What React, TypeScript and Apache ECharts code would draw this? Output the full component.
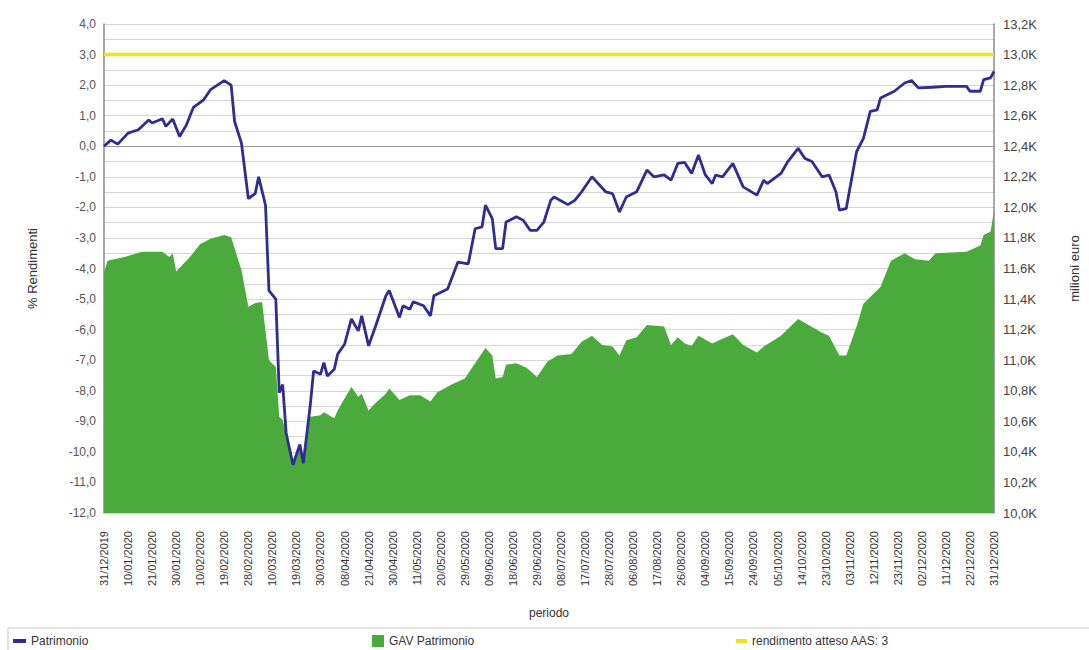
import React, { useEffect, useRef } from 'react';
import * as echarts from 'echarts';

// Non-trading days (besides weekends) in the fund's calendar
const holidays: string[] = ['01/01/2020', '10/04/2020', '13/04/2020'];

function pad(n: number): string {
  return n < 10 ? '0' + n : String(n);
}

// Business-day categories from 31/12/2019 to 31/12/2020
function buildCategories(): string[] {
  const out: string[] = [];
  let t = Date.UTC(2019, 11, 31);
  const end = Date.UTC(2020, 11, 31);
  while (t <= end) {
    const d = new Date(t);
    const wd = d.getUTCDay();
    const s = pad(d.getUTCDate()) + '/' + pad(d.getUTCMonth() + 1) + '/' + d.getUTCFullYear();
    if (wd !== 0 && wd !== 6 && holidays.indexOf(s) < 0) out.push(s);
    t += 86400000;
  }
  return out;
}

const categories: string[] = buildCategories();

// Patrimonio: % rendimento (left axis)
const patrimonio: [string, number][] = [
  ['31/12/2019', 0.0], ['03/01/2020', 0.2], ['07/01/2020', 0.07], ['10/01/2020', 0.43],
  ['15/01/2020', 0.54], ['20/01/2020', 0.86], ['21/01/2020', 0.76], ['24/01/2020', 0.9],
  ['27/01/2020', 0.65], ['29/01/2020', 0.89], ['31/01/2020', 0.32], ['04/02/2020', 0.7],
  ['06/02/2020', 1.27], ['11/02/2020', 1.52], ['13/02/2020', 1.85], ['19/02/2020', 2.15],
  ['21/02/2020', 2.0], ['24/02/2020', 0.81], ['26/02/2020', 0.1], ['28/02/2020', -1.71],
  ['03/03/2020', -1.55], ['04/03/2020', -1.0], ['06/03/2020', -1.93], ['09/03/2020', -4.72],
  ['11/03/2020', -5.0], ['12/03/2020', -8.06], ['13/03/2020', -7.8], ['16/03/2020', -9.38],
  ['18/03/2020', -10.42], ['20/03/2020', -9.76], ['23/03/2020', -10.37], ['25/03/2020', -8.5],
  ['26/03/2020', -7.35], ['30/03/2020', -7.46], ['31/03/2020', -7.08], ['01/04/2020', -7.52],
  ['03/04/2020', -7.3], ['06/04/2020', -6.8], ['08/04/2020', -6.48], ['14/04/2020', -5.65],
  ['16/04/2020', -6.04], ['17/04/2020', -5.55], ['21/04/2020', -6.53], ['23/04/2020', -5.9],
  ['28/04/2020', -4.9], ['29/04/2020', -4.72], ['04/05/2020', -5.6], ['05/05/2020', -5.22],
  ['07/05/2020', -5.33], ['08/05/2020', -5.09], ['13/05/2020', -5.22], ['15/05/2020', -5.55],
  ['18/05/2020', -4.89], ['22/05/2020', -4.67], ['27/05/2020', -3.79], ['01/06/2020', -3.85],
  ['03/06/2020', -2.7], ['05/06/2020', -2.64], ['08/06/2020', -1.93], ['10/06/2020', -2.37],
  ['11/06/2020', -3.35], ['15/06/2020', -3.35], ['16/06/2020', -2.48], ['19/06/2020', -2.31],
  ['23/06/2020', -2.42], ['25/06/2020', -2.75], ['29/06/2020', -2.75], ['01/07/2020', -2.48],
  ['03/07/2020', -1.77], ['06/07/2020', -1.66], ['10/07/2020', -1.91], ['14/07/2020', -1.77],
  ['16/07/2020', -1.49], ['21/07/2020', -1.0], ['27/07/2020', -1.49], ['29/07/2020', -1.55],
  ['31/07/2020', -2.15], ['04/08/2020', -1.66], ['07/08/2020', -1.49], ['12/08/2020', -0.78],
  ['14/08/2020', -1.0], ['19/08/2020', -0.94], ['21/08/2020', -1.11], ['25/08/2020', -0.56],
  ['27/08/2020', -0.53], ['31/08/2020', -0.89], ['02/09/2020', -0.29], ['04/09/2020', -0.94],
  ['08/09/2020', -1.22], ['09/09/2020', -0.94], ['11/09/2020', -1.0], ['16/09/2020', -0.56],
  ['21/09/2020', -1.33], ['25/09/2020', -1.6], ['29/09/2020', -1.11], ['30/09/2020', -1.22],
  ['06/10/2020', -0.89], ['08/10/2020', -0.5], ['13/10/2020', -0.07], ['15/10/2020', -0.4],
  ['19/10/2020', -0.5], ['22/10/2020', -1.0], ['26/10/2020', -0.94], ['28/10/2020', -1.49],
  ['29/10/2020', -2.09], ['02/11/2020', -2.04], ['05/11/2020', -0.18], ['09/11/2020', 0.26],
  ['11/11/2020', 1.14], ['13/11/2020', 1.19], ['16/11/2020', 1.58], ['20/11/2020', 1.8],
  ['25/11/2020', 2.07], ['27/11/2020', 2.15], ['01/12/2020', 1.91], ['07/12/2020', 1.93],
  ['11/12/2020', 1.96], ['21/12/2020', 1.96], ['22/12/2020', 1.8], ['25/12/2020', 1.8],
  ['28/12/2020', 2.18], ['30/12/2020', 2.24], ['31/12/2020', 2.45],
];

// GAV Patrimonio: milioni euro (right axis)
const gavPatrimonio: [string, number][] = [
  ['31/12/2019', 11570], ['02/01/2020', 11650], ['09/01/2020', 11675], ['16/01/2020', 11710],
  ['24/01/2020', 11710], ['28/01/2020', 11675], ['29/01/2020', 11700], ['30/01/2020', 11580],
  ['05/02/2020', 11675], ['10/02/2020', 11760], ['13/02/2020', 11795], ['19/02/2020', 11820],
  ['21/02/2020', 11805], ['26/02/2020', 11590], ['28/02/2020', 11350], ['03/03/2020', 11375],
  ['05/03/2020', 11380], ['09/03/2020', 11000], ['11/03/2020', 10956], ['12/03/2020', 10630],
  ['13/03/2020', 10610], ['17/03/2020', 10420], ['18/03/2020', 10345], ['20/03/2020', 10430],
  ['23/03/2020', 10345], ['25/03/2020', 10630], ['30/03/2020', 10640], ['31/03/2020', 10660],
  ['03/04/2020', 10620], ['06/04/2020', 10670], ['08/04/2020', 10750], ['14/04/2020', 10825],
  ['16/04/2020', 10760], ['17/04/2020', 10780], ['21/04/2020', 10670], ['23/04/2020', 10720],
  ['28/04/2020', 10780], ['29/04/2020', 10815], ['04/05/2020', 10740], ['07/05/2020', 10770],
  ['12/05/2020', 10770], ['15/05/2020', 10730], ['19/05/2020', 10790], ['25/05/2020', 10840],
  ['29/05/2020', 10880], ['03/06/2020', 10980], ['08/06/2020', 11080], ['10/06/2020', 11030],
  ['11/06/2020', 10880], ['15/06/2020', 10890], ['16/06/2020', 10970], ['19/06/2020', 10980],
  ['24/06/2020', 10950], ['29/06/2020', 10890], ['02/07/2020', 10990], ['07/07/2020', 11030],
  ['13/07/2020', 11040], ['16/07/2020', 11120], ['21/07/2020', 11160], ['24/07/2020', 11100],
  ['29/07/2020', 11090], ['31/07/2020', 11030], ['04/08/2020', 11130], ['07/08/2020', 11150],
  ['12/08/2020', 11230], ['19/08/2020', 11220], ['21/08/2020', 11100], ['25/08/2020', 11150],
  ['27/08/2020', 11110], ['31/08/2020', 11095], ['02/09/2020', 11160], ['08/09/2020', 11110],
  ['10/09/2020', 11130], ['16/09/2020', 11170], ['21/09/2020', 11100], ['25/09/2020', 11050],
  ['29/09/2020', 11090], ['06/10/2020', 11160], ['13/10/2020', 11270], ['16/10/2020', 11230],
  ['22/10/2020', 11180], ['26/10/2020', 11160], ['29/10/2020', 11030], ['02/11/2020', 11030],
  ['05/11/2020', 11220], ['09/11/2020', 11370], ['16/11/2020', 11480], ['19/11/2020', 11650],
  ['25/11/2020', 11700], ['30/11/2020', 11660], ['04/12/2020', 11650], ['08/12/2020', 11700],
  ['21/12/2020', 11710], ['25/12/2020', 11750], ['28/12/2020', 11820], ['30/12/2020', 11840],
  ['31/12/2020', 11980],
];

// Target return (left axis)
const rendimentoAtteso: [string, number][] = [
  ['31/12/2019', 3],
  ['31/12/2020', 3],
];

const FONT = '"Liberation Sans", Arial, sans-serif';

export default function App() {
  const ref = useRef<HTMLDivElement>(null);

  useEffect(() => {
    if (!ref.current) return;
    const chart = echarts.init(ref.current, undefined, { renderer: 'svg' });
    const legendText = { fontFamily: FONT, fontSize: 12, color: '#333' };
    chart.setOption({
      animation: false,
      backgroundColor: '#ffffff',
      textStyle: { fontFamily: FONT },
      grid: { left: 104, right: 85, top: 24, bottom: 137, containLabel: false },
      graphic: [
        {
          type: 'rect',
          shape: { x: 8, y: 628, width: 1095, height: 40 },
          style: { fill: 'none', stroke: '#c8c8c8', lineWidth: 1 },
          silent: true,
        },
      ],
      legend: [
        {
          data: ['Patrimonio'], left: 13, top: 635, padding: 0, icon: 'rect',
          itemWidth: 13, itemHeight: 4, selectedMode: false, textStyle: legendText,
        },
        {
          data: ['GAV Patrimonio'], left: 372, top: 635, padding: 0, icon: 'rect',
          itemWidth: 12, itemHeight: 12, selectedMode: false, textStyle: legendText,
        },
        {
          data: ['rendimento atteso AAS: 3'], left: 736, top: 635, padding: 0, icon: 'rect',
          itemWidth: 11, itemHeight: 4, selectedMode: false, textStyle: legendText,
        },
      ],
      xAxis: {
        type: 'category',
        data: categories,
        boundaryGap: false,
        name: 'periodo',
        nameLocation: 'middle',
        nameGap: 94,
        nameTextStyle: { fontFamily: FONT, fontSize: 12, color: '#333' },
        axisLine: { show: true, lineStyle: { color: '#999' } },
        axisTick: { show: false },
        axisLabel: { interval: 6, rotate: 90, fontSize: 11, color: '#333', margin: 18, fontFamily: FONT },
        splitLine: { show: false },
      },
      yAxis: [
        {
          type: 'value',
          position: 'left',
          min: -12,
          max: 4,
          interval: 1,
          name: '% Rendimenti',
          nameLocation: 'middle',
          nameGap: 65,
          nameRotate: 90,
          nameTextStyle: { fontFamily: FONT, fontSize: 13, color: '#333' },
          axisLine: { show: true, lineStyle: { color: '#8a8a8a', width: 1.5 } },
          axisTick: { show: false },
          axisLabel: {
            formatter: (v: number) => v.toFixed(1).replace('.', ','),
            color: '#555', fontSize: 12, margin: 8, fontFamily: FONT,
          },
          splitLine: { show: true, lineStyle: { color: '#d6d6d6', width: 1.2 } },
          minorTick: { show: false, splitNumber: 2 },
          minorSplitLine: { show: true, lineStyle: { color: '#d6d6d6', width: 1.2 } },
        },
        {
          type: 'value',
          position: 'right',
          min: 10000,
          max: 13200,
          interval: 200,
          name: 'milioni euro',
          nameLocation: 'middle',
          nameGap: 74,
          nameRotate: 90,
          nameTextStyle: { fontFamily: FONT, fontSize: 13, color: '#333' },
          axisLine: { show: true, lineStyle: { color: '#8a8a8a', width: 1.5 } },
          axisTick: { show: false },
          axisLabel: {
            formatter: (v: number) => (v / 1000).toFixed(1).replace('.', ',') + 'K',
            color: '#444', fontSize: 13, margin: 9, fontFamily: FONT,
          },
          splitLine: { show: false },
        },
      ],
      series: [
        {
          name: 'GAV Patrimonio',
          type: 'line',
          yAxisIndex: 1,
          data: gavPatrimonio,
          symbol: 'none',
          color: '#4aaa3c',
          lineStyle: { width: 0, color: '#4aaa3c' },
          areaStyle: { color: '#4aaa3c', opacity: 1, origin: 'start' },
          z: 2,
        },
        {
          name: 'rendimento atteso AAS: 3',
          type: 'line',
          yAxisIndex: 0,
          data: rendimentoAtteso,
          symbol: 'none',
          color: '#f2e21c',
          lineStyle: { width: 3.5, color: '#f2e21c' },
          z: 3,
        },
        {
          name: 'Patrimonio',
          type: 'line',
          yAxisIndex: 0,
          data: patrimonio,
          symbol: 'none',
          color: '#302c91',
          lineStyle: { width: 2.8, color: '#302c91' },
          z: 4,
        },
      ],
    });
    return () => chart.dispose();
  }, []);

  return (
    <div
      ref={ref}
      style={{ position: 'fixed', left: 0, top: 0, width: 1089, height: 650, background: '#fff' }}
    />
  );
}
